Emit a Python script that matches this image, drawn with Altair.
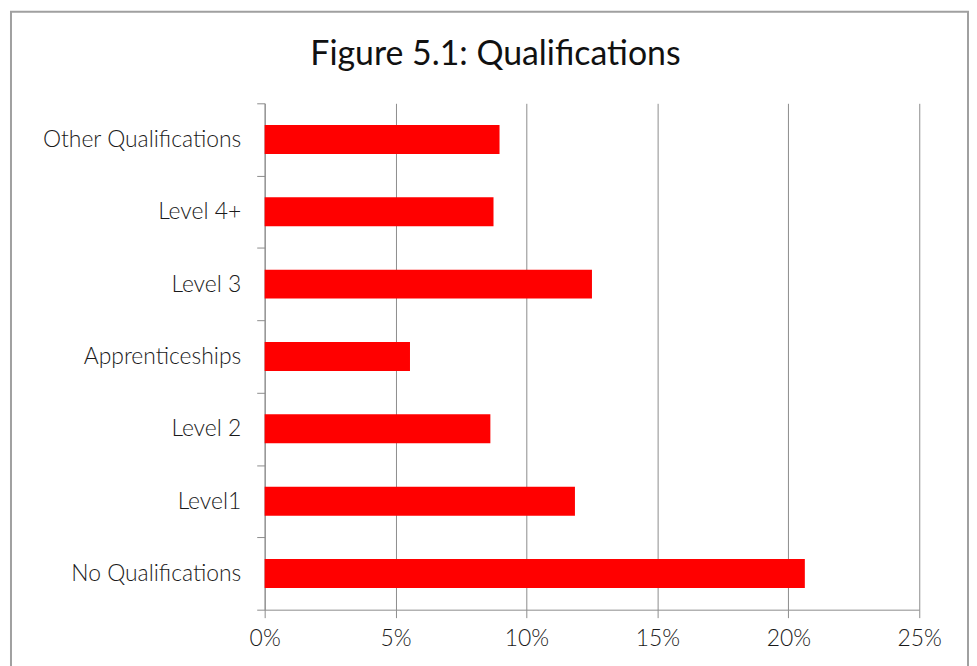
import altair as alt
import pandas as pd

categories = ["Other Qualifications", "Level 4+", "Level 3", "Apprenticeships",
              "Level 2", "Level1", "No Qualifications"]
values = [0.0897, 0.0874, 0.1250, 0.0555, 0.0862, 0.1185, 0.2063]
x_ticks = [0, 0.05, 0.10, 0.15, 0.20, 0.25]
title_text = "Figure 5.1: Qualifications"

df = pd.DataFrame({"category": categories, "share": values})

FONT = "Lato"
GRAY = "#8c8c8c"

frame = alt.Chart(alt.Data(values=[{}])).mark_rect(
    fill="white", fillOpacity=0, stroke="#a0a0a0", strokeWidth=2
).encode(
    x=alt.value(-255), x2=alt.value(707),
    y=alt.value(-92), y2=alt.value(600),
)

title = alt.Chart(alt.Data(values=[{"t": title_text}])).mark_text(
    font=FONT, fontSize=34, color="#111111", align="center",
    baseline="alphabetic",
).encode(
    x=alt.value(232), y=alt.value(-39), text="t:N",
)

bars = alt.Chart(df).mark_bar(
    color="#ff0000", height=alt.RelativeBandSize(0.4)
).encode(
    y=alt.Y(
        "category:N", sort=categories, title=None,
        scale=alt.Scale(paddingInner=0, paddingOuter=0),
        axis=alt.Axis(
            tickBand="extent", tickSize=8, tickColor=GRAY, domainColor=GRAY,
            labelFont=FONT, labelFontSize=23, labelFontWeight=300,
            labelColor="#1a1a1a", labelPadding=16, labelLimit=0, grid=False,
        ),
    ),
    x=alt.X(
        "share:Q", title=None,
        scale=alt.Scale(domain=[0, 0.25], nice=False),
        axis=alt.Axis(
            values=x_ticks, format=".0%", tickSize=8, tickColor=GRAY,
            domainColor=GRAY, gridColor=GRAY, gridOpacity=1, grid=True,
            labelFont=FONT, labelFontSize=23, labelFontWeight=300,
            labelColor="#1a1a1a", labelPadding=10, labelFlush=False,
        ),
    ),
)

chart = alt.layer(frame, title, bars).properties(
    width=658, height=509,
    padding={"left": 2, "top": 1, "right": 0, "bottom": 0},
).configure_view(stroke=None)

chart.save("out.html", embed_options={"renderer": "svg", "actions": False})
